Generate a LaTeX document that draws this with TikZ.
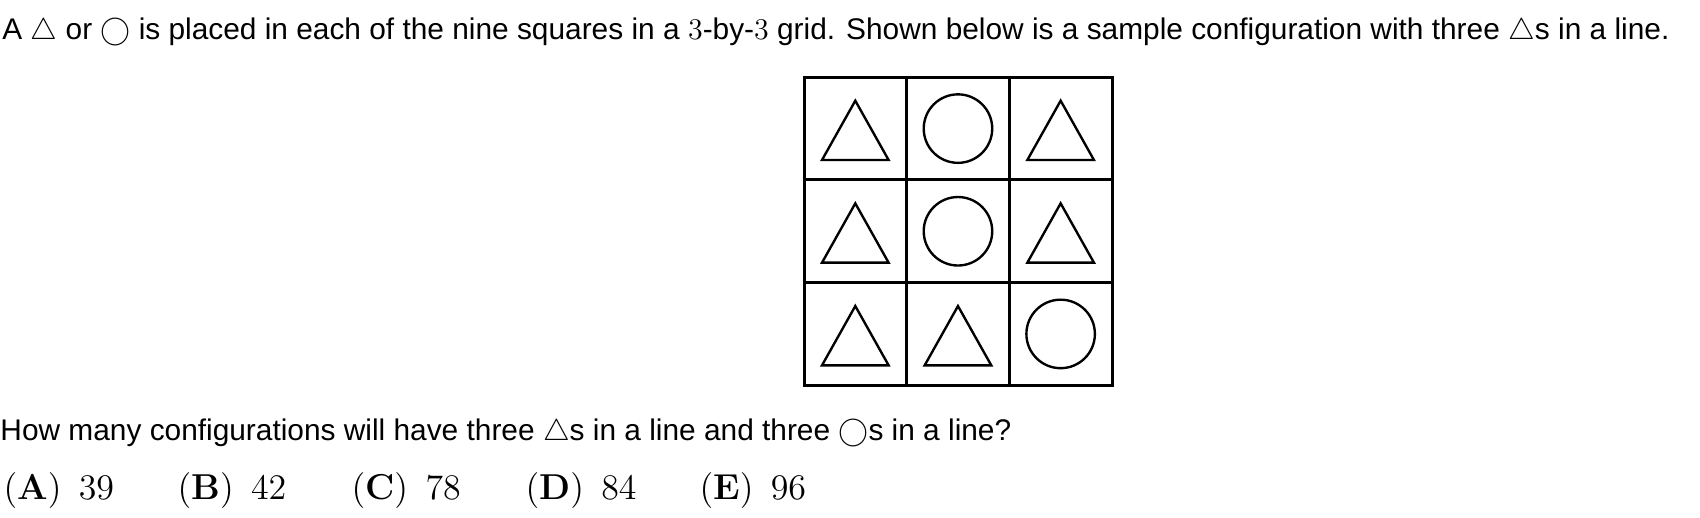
\documentclass[tikz,border=0pt]{standalone}
\usepackage[no-math]{fontspec}
\setmainfont{Liberation Sans}[Scale=0.995]
\usetikzlibrary{positioning}
\tikzstyle{prose} = [anchor=base west, inner sep=0pt, font=\fontsize{12}{14}\selectfont]
\tikzstyle{choice} = [anchor=base west, inner sep=0pt, font=\fontsize{14}{16}\selectfont]
\tikzstyle{gridline} = [line width=1.2pt, line cap=rect]
\tikzstyle{outline} = [line width=0.95pt, line join=miter]

\begin{document}
\begin{tikzpicture}[x=0.4pt,y=-0.4pt]
	\useasboundingbox (0,0) rectangle (1700,518);
	
	% Texts
	\node (intro) [prose] at (2,40) {A $\triangle$ or $\bigcirc$ is placed in each of the nine squares in a $3$-by-$3$ grid. Shown below is a sample configuration with three $\triangle$s in a line.};
	\node (question) [prose] at (0,441) {How many configurations will have three $\triangle$s in a line and three $\bigcirc$s in a line?};
	
	% Choices
	\foreach \l/\v [count=\i] in {A/39,B/42,C/78,D/84,E/96}
		\node (choice\l) [choice] at ({3+174*(\i-1)},500) {$\mathbf{(\l)}\enspace \v$};
	
	% Grid
	\foreach \k in {0,...,3} {
		\draw [gridline] ({804+102.67*\k},77.3) -- ({804+102.67*\k},385.3);
		\draw [gridline] (804,{77.3+102.67*\k}) -- (1112,{77.3+102.67*\k});
	}
	
	% Triangles and circles
	\foreach \c/\r in {0/0,2/0,0/1,2/1,0/2,1/2}
		\draw [outline] ({855.3+102.67*\c},{100.7+102.67*\r}) -- ++(33.3,59.3) -- ++(-66.6,0) -- cycle;
	\foreach \c/\r in {1/0,1/1,2/2}
		\draw [outline] ({855.3+102.67*\c},{128.6+102.67*\r}) circle [radius=13.7pt];
	
\end{tikzpicture}
\end{document}
